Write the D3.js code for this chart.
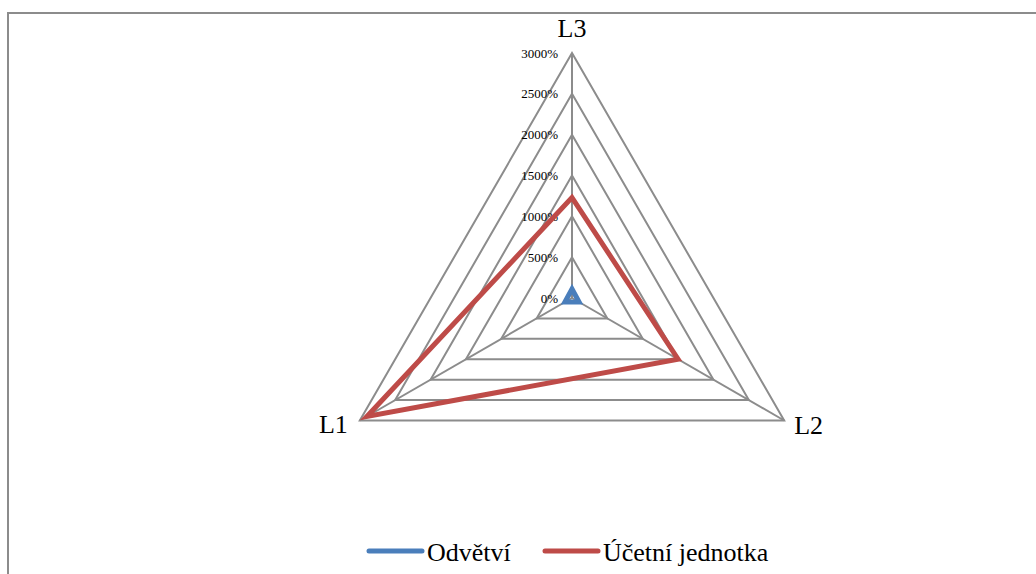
<!DOCTYPE html>
<html>
<head>
<meta charset="utf-8">
<script src="https://cdn.jsdelivr.net/npm/d3@7"></script>
<style>
  html, body { margin: 0; padding: 0; background: #fff; }
  svg { display: block; }
</style>
</head>
<body>
<svg id="chart" width="1036" height="574"></svg>
<script>
// Radar axes, in drawing order (clockwise from the top)
const axes = ["L3", "L2", "L1"];
// Series values in percent, one per axis above
const seriesNames = ["Odvětví", "Účetní jednotka"];
const odvetvi = [110, 100, 100];
const ucetniJednotka = [1230, 1500, 2900];
const seriesColors = ["#4a7ebb", "#be4b48"];
const tickValues = [0, 500, 1000, 1500, 2000, 2500, 3000];

const svg = d3.select("#chart");
const font = "'Liberation Serif', 'Times New Roman', serif";
const grid = "#8c8c8c";

// outer frame (clipped by the page on the right and bottom)
svg.append("rect")
  .attr("x", 8).attr("y", 13).attr("width", 1100).attr("height", 700)
  .attr("fill", "none").attr("stroke", grid).attr("stroke-width", 2);

const cx = 572, cy = 298, R = 245;
const r = d3.scaleLinear().domain([0, 3000]).range([0, R]);
const angle = d3.scalePoint().domain(axes).range([0, 2 * Math.PI * 2 / 3]);
const pt = (ax, v) => {
  const a = angle(ax);
  return [cx + r(v) * Math.sin(a), cy - r(v) * Math.cos(a)];
};

const g = svg.append("g");

// grid rings
tickValues.filter(t => t > 0).forEach(t => {
  g.append("path")
    .attr("d", d3.line()(axes.map(a => pt(a, t))) + "Z")
    .attr("fill", "none").attr("stroke", grid).attr("stroke-width", 2);
});
// spokes
axes.forEach(a => {
  const [x, y] = pt(a, 3000);
  g.append("line").attr("x1", cx).attr("y1", cy).attr("x2", x).attr("y2", y)
    .attr("stroke", grid).attr("stroke-width", 2);
});

// value labels along the top spoke
g.selectAll("text.tick").data(tickValues).join("text")
  .attr("class", "tick")
  .attr("x", cx - 14)
  .attr("y", d => cy - r(d))
  .attr("dy", "0.35em")
  .attr("text-anchor", "end")
  .attr("font-family", font).attr("font-size", 13)
  .attr("fill", "#000")
  .text(d => d + "%");

// axis names
const axisLabelPos = {
  L3: { dx: 0, dy: -25, anchor: "middle" },
  L2: { dx: 10, dy: 4, anchor: "start" },
  L1: { dx: -12, dy: 3, anchor: "end" }
};
axes.forEach(a => {
  const [x, y] = pt(a, 3000);
  const p = axisLabelPos[a];
  g.append("text")
    .attr("x", x + p.dx).attr("y", y + p.dy)
    .attr("dy", "0.35em")
    .attr("text-anchor", p.anchor)
    .attr("font-family", font).attr("font-size", 26)
    .attr("fill", "#000")
    .text(a);
});

// series polygons
[odvetvi, ucetniJednotka].forEach((vals, i) => {
  g.append("path")
    .attr("d", d3.line()(axes.map((a, j) => pt(a, vals[j]))) + "Z")
    .attr("fill", "none")
    .attr("stroke", seriesColors[i])
    .attr("stroke-width", 5)
    .attr("stroke-linejoin", "miter");
});

// legend
const legendItems = [
  { name: seriesNames[0], color: seriesColors[0], x: 369 },
  { name: seriesNames[1], color: seriesColors[1], x: 545 }
];
legendItems.forEach(d => {
  svg.append("line")
    .attr("x1", d.x).attr("x2", d.x + 53)
    .attr("y1", 551).attr("y2", 551)
    .attr("stroke", d.color).attr("stroke-width", 5)
    .attr("stroke-linecap", "round");
  svg.append("text")
    .attr("x", d.x + 58).attr("y", 552)
    .attr("dy", "0.35em")
    .attr("font-family", font).attr("font-size", 26)
    .attr("fill", "#000")
    .text(d.name);
});
</script>
</body>
</html>
